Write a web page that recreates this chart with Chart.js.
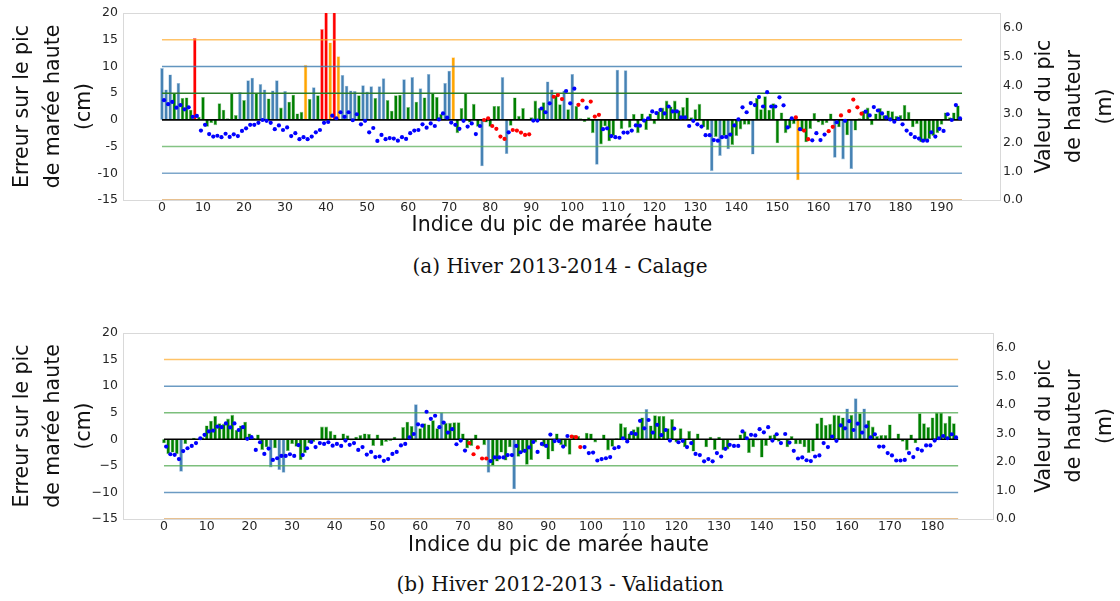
<!DOCTYPE html>
<html><head><meta charset="utf-8">
<script src="https://cdn.jsdelivr.net/npm/chart.js@4.4.1/dist/chart.umd.min.js"></script>
<style>
body{margin:0;background:#fff;width:1120px;height:601px;position:relative;overflow:hidden}
.box{position:absolute;left:0;width:1120px;height:240px}
.cap{position:absolute;left:0;width:1120px;text-align:center;font-family:"DejaVu Serif";font-size:20px;color:#111;line-height:24px}
</style></head><body>
<div class="box" style="top:0"><canvas id="ca" width="1120" height="240"></canvas></div>
<div class="cap" style="top:254px">(a) Hiver 2013-2014 - Calage</div>
<div class="box" style="top:320px"><canvas id="cb" width="1120" height="240"></canvas></div>
<div class="cap" style="top:572px">(b) Hiver 2012-2013 - Validation</div>
<script>
// ---- Panel (a) Hiver 2013-2014 - Calage ----
const errA = [9.7,5.7,8.5,5.0,6.9,4.1,4.2,1.9,15.3,0.6,
4.3,-1.3,-0.6,-1.0,3.1,1.9,0.3,5.0,0.9,5.2,
3.7,7.4,7.9,5.0,6.7,5.7,4.0,5.5,7.4,2.3,
5.4,3.4,4.7,1.2,1.5,10.3,3.9,6.1,4.6,17.0,
22.0,14.5,22.0,11.9,8.4,6.4,5.5,5.4,4.6,6.5,
5.3,6.3,4.1,6.3,7.8,3.7,1.7,4.6,4.7,7.6,
2.4,8.0,3.4,5.9,4.2,8.6,5.0,4.3,1.1,6.9,
9.2,11.7,-2.5,2.2,5.0,-0.5,3.0,-1.3,-8.7,-0.5,
-1.3,2.6,2.6,8.0,-6.4,-1.1,4.2,0.75,2.2,0.2,
0.5,3.6,2.2,3.3,7.2,5.7,4.6,2.9,5.5,2.0,
8.6,2.6,0.3,-0.4,0.5,-2.5,-8.4,-4.6,-1.2,-4.0,
-3.0,9.4,-1.7,9.3,-1.5,1.1,-2.5,1.2,-1.9,1.2,
-0.8,1.6,2.3,3.6,2.5,3.6,1.8,2.4,4.2,0.5,
2.0,3.0,-1.4,-1.9,-9.6,-3.2,-6.75,-3.0,-5.5,-4.7,
-3.0,-1.8,-0.9,-0.9,-6.5,4.1,2.0,4.4,1.9,3.1,
-4.4,1.4,-2.5,-1.6,-0.8,-11.3,-2.2,-4.2,-1.7,1.3,
-0.5,-1.0,-0.6,1.2,-7.1,-1.4,-7.4,-2.9,-9.2,-2.0,
0.3,1.7,2.3,-1.0,1.2,2.2,0.9,1.75,1.6,0.75,
0.9,2.8,1.5,-1.4,-0.8,-4.2,-3.9,-3.6,-3.0,-2.5,
-0.9,1.4,0.5,1.4,2.7];
const heightA = [3.48,3.34,3.42,3.22,3.31,3.16,3.23,2.90,2.93,2.42,
2.62,2.30,2.21,2.24,2.19,2.31,2.20,2.29,2.23,2.41,
2.50,2.62,2.62,2.69,2.79,2.76,2.69,2.47,2.60,2.44,
2.53,2.23,2.33,2.12,2.19,2.12,2.21,2.36,2.44,2.69,
2.72,2.94,2.85,3.06,2.90,3.06,2.78,2.99,2.64,2.76,
2.36,2.51,2.06,2.27,2.12,2.16,2.14,2.07,2.19,2.13,
2.33,2.42,2.44,2.64,2.52,2.67,2.58,2.81,3.02,2.87,
2.70,2.62,2.48,2.76,2.56,2.67,2.30,2.58,2.79,2.85,
2.58,2.48,2.21,2.13,2.36,2.44,2.42,2.35,2.27,2.29,
2.77,2.77,3.19,3.06,3.37,3.60,3.66,3.52,3.80,3.37,
3.88,3.32,3.47,3.22,3.43,2.91,2.97,2.47,2.50,2.23,
2.19,2.17,2.35,2.35,2.42,2.60,2.59,2.77,2.85,3.09,
3.03,3.14,3.02,3.26,3.09,3.09,2.88,2.88,2.58,2.76,
2.64,2.56,2.26,2.26,2.09,2.07,2.19,2.20,2.28,2.60,
2.81,3.23,3.06,3.38,3.31,3.59,3.26,3.76,3.26,3.26,
3.58,3.30,2.53,2.85,2.88,2.47,2.42,2.12,2.08,2.33,
2.09,2.28,2.40,2.55,2.71,2.95,2.76,3.10,3.50,3.23,
3.01,3.08,2.95,3.24,3.12,3.02,2.88,2.81,2.73,2.83,
2.64,2.42,2.30,2.19,2.14,2.07,2.07,2.36,2.21,2.48,
2.41,2.99,2.79,3.31,2.85];
const redDotsA = [78,79,80,81,82,83,85,86,87,88,89,95,96,97,101,102,104,105,106,154,156,157,162,163,165,167,168,169,170];
const xTicksA = [0,10,20,30,40,50,60,70,80,90,100,110,120,130,140,150,160,170,180,190];
const yTickLabelsA = ['-15','-10','-5','0','5','10','15','20'];

// ---- Panel (b) Hiver 2012-2013 - Validation ----
const errB = [-0.75,-2.8,-2.5,-2.8,-6.1,-0.9,-0.1,0.3,0.1,0.4,
2.6,3.5,4.4,3.0,2.9,3.9,4.6,1.75,2.6,3.3,
1.1,0.25,0.9,-2.0,-1.5,-5.3,-1.7,-5.8,-6.3,-2.2,
-0.9,-1.4,-3.9,-2.6,-0.75,-0.5,-0.25,2.4,2.4,1.6,
0.9,0.1,1.1,0.75,-0.25,0.5,0.8,1.1,1.0,-1.25,
0.9,-1.25,-0.5,-0.3,0.5,0.1,2.3,3.3,2.5,6.6,
2.1,3.0,2.8,3.6,2.1,5.1,3.1,3.1,3.2,3.2,
1.1,-1.7,-1.25,0.9,-0.1,-1.1,-6.3,-5.0,-4.2,-2.5,
-4.0,-1.5,-9.4,-3.3,-2.5,-4.8,-3.9,-0.6,0.1,-1.4,
-3.8,-2.3,1.1,-1.1,-1.4,-2.9,0.8,0.6,0.1,1.25,
1.1,-0.6,0.0,0.9,-2.1,-1.4,0.2,3.0,2.3,1.1,
1.9,2.4,4.1,5.7,2.6,4.5,4.4,4.4,2.1,3.8,
-0.6,2.1,-1.5,1.6,-2.3,1.1,0.1,-1.5,0.5,-2.0,
0.5,-2.1,-1.9,-0.25,0.0,0.9,1.5,-2.6,-1.5,-0.25,
-3.45,-1.25,0.75,0.9,-0.45,0.0,-1.5,0.6,-0.95,-0.95,
-1.5,-2.6,-2.3,3.0,4.1,2.7,2.9,4.6,4.5,4.1,
5.8,4.6,7.7,4.9,5.8,3.6,2.4,0.6,0.8,0.8,
2.8,0.2,1.1,-0.45,-2.1,0.9,-0.75,4.9,3.0,2.3,
4.1,5.0,5.0,3.1,4.4,3.0];
const heightB = [2.54,2.27,2.25,2.10,2.38,2.48,2.56,2.66,2.83,2.95,
3.07,3.10,3.24,3.22,3.35,3.21,3.35,3.12,3.22,2.81,
2.87,2.42,2.69,2.28,2.47,2.07,2.13,2.21,2.21,2.27,
2.21,2.59,2.24,2.48,2.70,2.52,2.66,2.63,2.69,2.57,
2.63,2.56,2.75,2.60,2.66,2.42,2.52,2.26,2.35,2.17,
2.19,2.04,2.10,2.28,2.35,2.58,2.63,2.86,2.98,3.32,
3.27,3.76,3.51,3.62,3.22,3.38,3.03,3.15,2.62,2.75,
2.40,2.66,2.27,2.51,2.12,2.12,2.03,2.16,2.16,2.16,
2.24,2.24,2.56,2.34,2.39,2.51,2.70,2.35,2.63,2.56,
2.96,2.73,2.73,2.54,2.91,2.89,2.87,2.52,2.52,2.31,
2.33,2.05,2.10,2.13,2.17,2.48,2.52,2.83,2.72,3.01,
2.98,3.44,3.18,3.47,3.03,3.30,2.94,3.12,2.75,3.17,
2.69,2.74,2.52,2.66,2.28,2.24,2.02,2.10,2.02,2.31,
2.19,2.46,2.60,2.56,2.56,3.07,2.83,2.95,2.93,3.15,
3.04,3.22,2.75,2.97,2.66,2.98,2.68,2.39,2.12,2.16,
2.06,2.03,2.19,2.23,2.66,2.52,2.89,2.74,3.28,3.18,
3.43,3.12,3.34,3.03,3.25,2.86,2.97,2.54,2.54,2.31,
2.23,2.05,2.05,2.07,2.31,2.17,2.45,2.40,2.58,2.58,
2.75,2.83,2.91,2.83,2.97,2.86];
const redDotsB = [71,72,73,74,75,95,96,97];
const xTicksB = [0,10,20,30,40,50,60,70,80,90,100,110,120,130,140,150,160,170,180];
const yTickLabelsB = ['\u221215','\u221210','\u22125','0','5','10','15','20'];

// shared
const yTicks = [-15,-10,-5,0,5,10,15,20];
const rightTicks = [0,1,2,3,4,5,6];
const rightTickLabels = ['0.0','1.0','2.0','3.0','4.0','5.0','6.0'];
const refLevels = [15,10,5,0,-5,-10,-15];
const leftTitle = ['Erreur sur le pic','de marée haute','(cm)'];
const rightTitle = ['Valeur du pic','de hauteur','(m)'];
const xTitle = 'Indice du pic de marée haute';

const FONT = 'DejaVu Sans';

function barColor(v){const a=Math.abs(v);return a<=5?'#008000':a<=10?'#4682b4':a<=15?'#ffa500':'#ff0000';}
function barEdge(v){const a=Math.abs(v);return a<=5?'rgba(110,185,110,0.95)':a<=10?'rgba(150,188,218,0.95)':a<=15?'rgba(255,205,130,0.95)':'rgba(255,130,130,0.95)';}

function makeChart(id, err, height, redDots, xTicks, yLabels, cfg){
  const n = err.length;
  const datasets = [];
  datasets.push({type:'line', label:'h', data: height.map((v,i)=>({x:i+0.5,y:v})), showLine:false,
    pointRadius:2.1, pointBorderWidth:0, pointBackgroundColor: height.map((v,i)=>redDots.includes(i)?'#ff0000':'#0000ff'),
    yAxisID:'yR', xAxisID:'x', order:0});
  refLevels.forEach((L,k)=>{
    datasets.push({type:'line', data:[{x:0,y:L},{x:n,y:L}], borderColor: cfg.lineColors[k], borderWidth: L===0?1.6:1.5,
      pointRadius:0, yAxisID:'y', xAxisID:'x', order:1});
  });
  datasets.push({type:'bar', data: err.map((v,i)=>({x:i,y:v})), backgroundColor: err.map(barColor), borderColor: err.map(barEdge),
    borderWidth:0.6, barPercentage:0.88, categoryPercentage:1, yAxisID:'y', xAxisID:'x', order:2, grouped:false});

  const boxPlugin = {id:'box', beforeDatasetsDraw(chart){
      const a = chart.chartArea, c = chart.ctx; c.save(); c.strokeStyle='#d9d9d9'; c.lineWidth=1;
      c.strokeRect(Math.round(a.left)+0.5, Math.round(a.top)+0.5, Math.round(a.right-a.left)-1, Math.round(a.bottom-a.top));
      c.restore(); },
    afterDraw(chart){
      const a = chart.chartArea, c = chart.ctx; c.save();
      c.fillStyle='#111'; c.font='20.5px "'+FONT+'"'; c.textAlign='center'; c.textBaseline='middle';
      c.translate(cfg.rightTitleX, (a.top+a.bottom)/2); c.rotate(-Math.PI/2);
      rightTitle.forEach((t,k)=>c.fillText(t,0,k*30.5));
      c.restore(); }};

  return new Chart(document.getElementById(id), {
    type:'bar',
    data:{datasets},
    plugins:[boxPlugin],
    options:{
      responsive:false, animation:false, devicePixelRatio:1,
      layout:{padding:{top:13,right:0,left:0,bottom:0}},
      plugins:{legend:{display:false}, tooltip:{enabled:false}},
      scales:{
        x:{type:'linear', position:'bottom', min:cfg.xMin, max:cfg.xMax, offset:false,
          grid:{display:false, drawTicks:false}, border:{display:false},
          afterBuildTicks(s){ s.ticks = xTicks.map(v=>({value:v})); },
          afterFit(s){ s.height = cfg.xH; },
          ticks:{font:{family:FONT,size:12.5}, color:'#262626', padding:cfg.xTickPad, maxRotation:0, autoSkip:false,
            callback:(v)=>String(v)},
          title:{display:true, text:xTitle, color:'#111', font:{family:FONT,size:20.5}, padding:{top:0,bottom:2}}
        },
        y:{type:'linear', position:'left', min:-15, max:20,
          grid:{display:false, drawTicks:false}, border:{display:false},
          afterBuildTicks(s){ s.ticks = yTicks.map(v=>({value:v})); },
          afterFit(s){ s.width = 123; },
          ticks:{font:{family:FONT,size:12.5}, color:'#262626', padding:5, autoSkip:false,
            callback:(v,i)=>yLabels[i]},
          title:{display:true, text:leftTitle, color:'#111', font:{family:FONT,size:20.5,lineHeight:'31px'}, padding:{top:7,bottom:0}}
        },
        yR:{type:'linear', position:'right', min:0, max:6.52,
          grid:{display:false, drawTicks:false}, border:{display:false},
          afterBuildTicks(s){ s.ticks = rightTicks.map(v=>({value:v})); },
          afterFit(s){ s.width = cfg.rightW; },
          ticks:{font:{family:FONT,size:12.5}, color:'#262626', padding:2, autoSkip:false,
            callback:(v,i)=>rightTickLabels[i]}
        }
      }
    }
  });
}

makeChart('ca', errA, heightA, redDotsA, xTicksA, yTickLabelsA, {
  xMin:-9.5, xMax:204.5, xH:40, xTickPad:0, rightW:119, rightTitleX:1044.5,
  lineColors:['rgba(255,170,40,0.7)','rgba(70,130,180,0.85)','#2a7d2a','#000000','rgba(80,170,80,0.7)','rgba(70,130,180,0.7)','rgba(215,150,70,0.8)']
});
makeChart('cb', errB, heightB, redDotsB, xTicksB, yTickLabelsB, {
  xMin:-9.6, xMax:194.4, xH:41, xTickPad:0, rightW:126, rightTitleX:1044.5,
  lineColors:['rgba(255,170,40,0.7)','rgba(70,130,180,0.8)','rgba(80,170,80,0.75)','#000000','rgba(80,170,80,0.75)','rgba(70,130,180,0.8)','rgba(215,150,70,0.8)']
});
</script>
</body></html>
